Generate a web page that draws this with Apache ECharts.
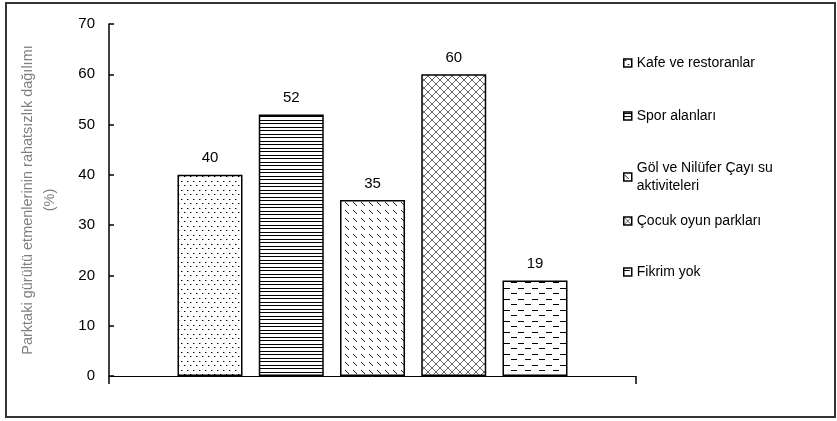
<!DOCTYPE html>
<html>
<head>
<meta charset="utf-8">
<script src="https://cdn.jsdelivr.net/npm/echarts@6/dist/echarts.min.js"></script>
<style>
html,body{margin:0;padding:0;background:#fff;}
#chart{width:837px;height:421px;}
</style>
</head>
<body>
<div id="chart"></div>
<script>
// ---- data ----
const categories = [''];
const seriesNames = ['Kafe ve restoranlar', 'Spor alanları', 'Göl ve Nilüfer Çayı su aktiviteleri', 'Çocuk oyun parkları', 'Fikrim yok'];
const values = [40, 52, 35, 60, 19];
const yMin = 0, yMax = 70, yInterval = 10;
const yAxisTitle = 'Parktaki gürültü etmenlerinin rahatsızlık dağılımı\n(%)';

// ---- patterns ----
function makeCanvas(w, h) {
  const c = document.createElement('canvas');
  c.width = w; c.height = h;
  const ctx = c.getContext('2d');
  ctx.fillStyle = '#fff';
  ctx.fillRect(0, 0, w, h);
  return [c, ctx];
}
function patDots() {
  const [c, ctx] = makeCanvas(6, 9);
  ctx.fillStyle = '#000';
  ctx.fillRect(1, 1, 1, 1); ctx.fillRect(4, 5, 1, 1);
  ctx.fillStyle = '#999';
  ctx.fillRect(2, 1, 1, 1); ctx.fillRect(5, 5, 1, 1);
  return c;
}
function patHLines() {
  const [c, ctx] = makeCanvas(4, 7);
  ctx.fillStyle = '#000';
  ctx.fillRect(0, 1, 4, 1); ctx.fillRect(0, 4, 4, 1);
  return c;
}
function patDiagDash() {
  const [c, ctx] = makeCanvas(8, 8);
  ctx.fillStyle = '#222';
  for (let i = 0; i < 4; i++) ctx.fillRect(1 + i, 2 + i, 1, 1);
  return c;
}
function patCross() {
  const [c, ctx] = makeCanvas(8, 8);
  ctx.fillStyle = '#666';
  for (let i = 0; i < 8; i++) { ctx.fillRect(i, i, 1, 1); ctx.fillRect(7 - i, i, 1, 1); }
  return c;
}
function patHDash() {
  const [c, ctx] = makeCanvas(14, 11);
  ctx.fillStyle = '#000';
  ctx.fillRect(0, 2, 6, 1); ctx.fillRect(7, 7, 6, 1);
  return c;
}
const patterns = [patDots(), patHLines(), patDiagDash(), patCross(), patHDash()];
const legendTops = [49, 102, 154, 207, 258];

const FONT = 'Liberation Sans, Arial, sans-serif';
const chart = echarts.init(document.getElementById('chart'), null, {renderer: 'canvas'});

const series = seriesNames.map((name, i) => ({
  name: name,
  type: 'bar',
  data: [values[i]],
  barWidth: 65,
  barGap: '25%',
  itemStyle: {
    color: {image: patterns[i], repeat: 'repeat'},
    borderColor: '#000',
    borderWidth: 1.5
  },
  label: {
    show: true,
    position: 'top',
    distance: 9,
    color: '#000',
    fontSize: 15,
    fontFamily: FONT
  }
}));

const legends = seriesNames.map((name, i) => ({
  data: [name],
  orient: 'vertical',
  left: 618,
  top: legendTops[i],
  icon: 'rect',
  itemWidth: 8,
  itemHeight: 8,
  itemStyle: {borderWidth: 1.5, borderColor: '#000'},
  selectedMode: false,
  formatter: n => n === 'Göl ve Nilüfer Çayı su aktiviteleri' ? 'Göl ve Nilüfer Çayı su\naktiviteleri' : n,
  textStyle: {color: '#000', fontSize: 14, fontFamily: FONT, lineHeight: 18}
}));

chart.setOption({
  animation: false,
  backgroundColor: '#fff',
  graphic: [{
    type: 'rect',
    shape: {x: 6, y: 3, width: 829, height: 414},
    style: {fill: 'none', stroke: '#333', lineWidth: 2},
    silent: true, z: -10
  }],
  grid: {left: 109, right: 201, top: 24, bottom: 45},
  legend: legends,
  xAxis: {
    type: 'category',
    data: categories,
    axisLine: {lineStyle: {color: '#000', width: 1}},
    axisTick: {show: true, length: 8, lineStyle: {color: '#000', width: 1.5}},
    axisLabel: {show: false}
  },
  yAxis: {
    type: 'value',
    min: yMin, max: yMax, interval: yInterval,
    axisLine: {show: true, lineStyle: {color: '#000', width: 1.5}},
    axisTick: {show: true, inside: true, length: 5, lineStyle: {color: '#000', width: 1.5}},
    splitLine: {show: false},
    axisLabel: {color: '#000', fontSize: 15, fontFamily: FONT, margin: 14},
    name: yAxisTitle,
    nameLocation: 'middle',
    nameGap: 48,
    nameTextStyle: {color: '#7f7f7f', fontSize: 14.5, fontFamily: FONT, lineHeight: 22}
  },
  series: series
});
</script>
</body>
</html>
